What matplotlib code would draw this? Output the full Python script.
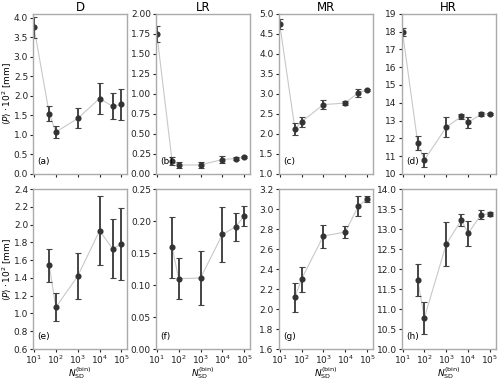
import matplotlib
matplotlib.use("Agg")
import matplotlib.pyplot as plt
import numpy as np

# ---- data ----
titles = ["D", "LR", "MR", "HR"]
x_std = [10, 50, 100, 1000, 10000, 40000, 100000]
x_hr = [10, 50, 100, 1000, 5000, 10000, 40000, 100000]

d_y = [3.75, 1.54, 1.07, 1.42, 1.93, 1.73, 1.78]
d_err = [0.28, 0.19, 0.155, 0.255, 0.39, 0.33, 0.405]

lr_y = [1.75, 0.159, 0.110, 0.111, 0.179, 0.191, 0.208]
lr_err = [0.10, 0.048, 0.032, 0.042, 0.043, 0.022, 0.016]

mr_y = [4.75, 2.12, 2.30, 2.73, 2.77, 3.03, 3.10]
mr_err = [0.13, 0.145, 0.125, 0.115, 0.06, 0.10, 0.03]

hr_y = [17.98, 11.72, 10.78, 12.62, 13.23, 12.89, 13.36, 13.38]
hr_err = [0.22, 0.40, 0.40, 0.55, 0.155, 0.32, 0.115, 0.05]

series = [(x_std, d_y, d_err), (x_std, lr_y, lr_err),
          (x_std, mr_y, mr_err), (x_hr, hr_y, hr_err)]

top_ylims = [(0, 4.1), (0, 2.0), (1.0, 5.0), (10, 19)]
top_ticks = [np.arange(0, 4.01, 0.5), np.arange(0, 2.01, 0.25),
             np.arange(1.0, 5.01, 0.5), np.arange(10, 19.1, 1)]
top_fmt = ["{:.1f}", "{:.2f}", "{:.1f}", "{:.0f}"]
bot_ylims = [(0.6, 2.4), (0.0, 0.25), (1.6, 3.2), (10.0, 14.0)]
bot_ticks = [np.arange(0.6, 2.41, 0.2), np.arange(0, 0.251, 0.05),
             np.arange(1.6, 3.21, 0.2), np.arange(10.0, 14.01, 0.5)]
bot_fmt = ["{:.1f}", "{:.2f}", "{:.1f}", "{:.1f}"]
labels_top = ["(a)", "(b)", "(c)", "(d)"]
labels_bot = ["(e)", "(f)", "(g)", "(h)"]

fig, axes = plt.subplots(2, 4, figsize=(5.0, 3.84), dpi=100, sharex=True)
fig.subplots_adjust(left=0.066, right=0.992, top=0.964, bottom=0.091,
                    wspace=0.30, hspace=0.095)

def draw(ax, x, y, e):
    ax.plot(x, y, color="#c8c8c8", lw=0.8, zorder=1)
    ax.errorbar(x, y, yerr=e, fmt="o", ms=3.4, color="#333333",
                ecolor="#444444", elinewidth=1.4, capsize=2.0, capthick=0.8,
                zorder=2)

for j in range(4):
    x, y, e = series[j]
    ax = axes[0, j]
    draw(ax, x, y, e)
    ax.set_ylim(*top_ylims[j])
    ax.set_yticks(top_ticks[j])
    ax.set_yticklabels([top_fmt[j].format(v) for v in top_ticks[j]])
    ax.set_title(titles[j], fontsize=8.5, pad=2)
    ax.text(0.05, 0.06, labels_top[j], transform=ax.transAxes, fontsize=6.5)
    ax = axes[1, j]
    draw(ax, x[1:], y[1:], e[1:])
    ax.set_ylim(*bot_ylims[j])
    ax.set_yticks(bot_ticks[j])
    ax.set_yticklabels([bot_fmt[j].format(v) for v in bot_ticks[j]])
    ax.text(0.05, 0.06, labels_bot[j], transform=ax.transAxes, fontsize=6.5)
    ax.set_xlabel(r"$N_{\rm SD}^{\rm (bin)}$", fontsize=6.5, labelpad=-1)

for ax in axes.flat:
    ax.set_xscale("log")
    ax.set_xlim(9, 1.9e5)
    ax.set_xticks([1e1, 1e2, 1e3, 1e4, 1e5])
    ax.tick_params(labelsize=6.5, length=2.5, pad=1.0, colors="#222222")
    ax.tick_params(which="minor", length=1.5)
    for s in ax.spines.values():
        s.set_color("#aaaaaa")
        s.set_linewidth(1.0)

for ax in axes[0]:
    ax.tick_params(labelbottom=False)

for ax in axes[:, 0]:
    ax.set_ylabel(r"$\langle P\rangle \cdot 10^2$ [mm]", fontsize=6.5)
    ax.yaxis.set_label_coords(-0.215, 0.5)

fig.savefig("out.png", dpi=100)
